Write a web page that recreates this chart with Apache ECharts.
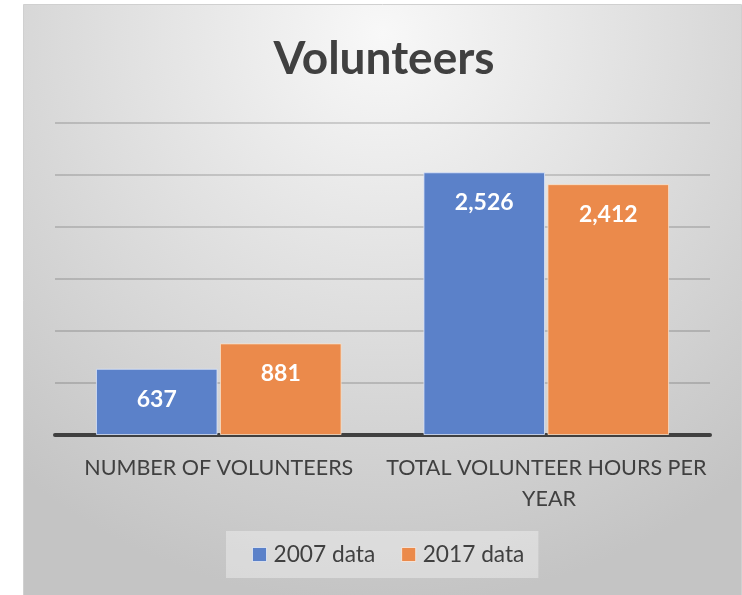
<!DOCTYPE html>
<html>
<head>
<meta charset="utf-8">
<script src="https://cdn.jsdelivr.net/npm/echarts@6/dist/echarts.min.js"></script>
<style>html,body{margin:0;padding:0;}#c{width:742px;height:595px;}</style>
</head>
<body>
<div id="c"></div>
<script>
var categories = ['NUMBER OF VOLUNTEERS', 'TOTAL VOLUNTEER HOURS PER YEAR'];
var seriesNames = ['2007 data', '2017 data'];
var data2007 = [637, 2526];
var data2017 = [881, 2412];
var yTicks = [0, 500, 1000, 1500, 2000, 2500, 3000];

var FONT = 'Lato';
var chart = echarts.init(document.getElementById('c'));
function fmt(p){ return p.value.toLocaleString('en-US'); }
chart.setOption({
  animation: false,
  graphic: [{
    type: 'rect', left: 23, top: 4, z: -10,
    shape: { width: 718, height: 600 },
    style: {
      fill: { type: 'radial', x: 0.5, y: 0.05, r: 0.95,
        colorStops: [{offset: 0, color: '#f8f8f8'}, {offset: 1, color: '#c4c4c4'}] },
      stroke: '#d0d0d0', lineWidth: 1
    }
  }],
  title: {
    text: 'Volunteers', left: 379, top: 31, textAlign: 'center',
    textStyle: { fontFamily: FONT, fontWeight: 'bold', fontSize: 46, color: '#404040' }
  },
  grid: { left: 55, right: 32, top: 123, bottom: 160, containLabel: false },
  xAxis: {
    type: 'category', data: categories,
    axisLine: { show: true, lineStyle: { color: '#404040', width: 4 } },
    axisTick: { show: false },
    axisLabel: { fontFamily: FONT, fontSize: 21.5, color: '#404040', margin: 18,
      width: 326, overflow: 'break', lineHeight: 31, interval: 0 }
  },
  yAxis: {
    type: 'value', min: yTicks[0], max: yTicks[yTicks.length - 1], interval: yTicks[1] - yTicks[0],
    axisLabel: { show: false }, axisLine: { show: false }, axisTick: { show: false },
    splitLine: { lineStyle: { color: 'rgba(0,0,0,0.2)', width: 1.5 } }
  },
  legend: {
    data: seriesNames, top: 531, left: 226,
    backgroundColor: 'rgba(255,255,255,0.35)', padding: [12, 14, 12, 26],
    itemWidth: 14, itemHeight: 14, itemGap: 26, icon: 'rect',
    itemStyle: { borderColor: 'rgba(255,255,255,0.6)', borderWidth: 1 },
    textStyle: { fontFamily: FONT, fontSize: 22.7, color: '#404040', padding: [0, 0, 0, 2] }
  },
  series: [
    { name: seriesNames[0], type: 'bar', data: data2007, barGap: '2%', barCategoryGap: '25%',
      itemStyle: { color: '#5b81c9', borderColor: 'rgba(220,230,250,0.8)', borderWidth: 1 },
      label: { show: true, position: 'insideTop', distance: 19, formatter: fmt,
        fontFamily: FONT, fontWeight: 'bold', fontSize: 23, color: '#ffffff' } },
    { name: seriesNames[1], type: 'bar', data: data2017,
      itemStyle: { color: '#eb8a4b', borderColor: 'rgba(250,225,200,0.8)', borderWidth: 1 },
      label: { show: true, position: 'insideTop', distance: 19, formatter: fmt,
        fontFamily: FONT, fontWeight: 'bold', fontSize: 23, color: '#ffffff' } }
  ]
});
</script>
</body>
</html>
